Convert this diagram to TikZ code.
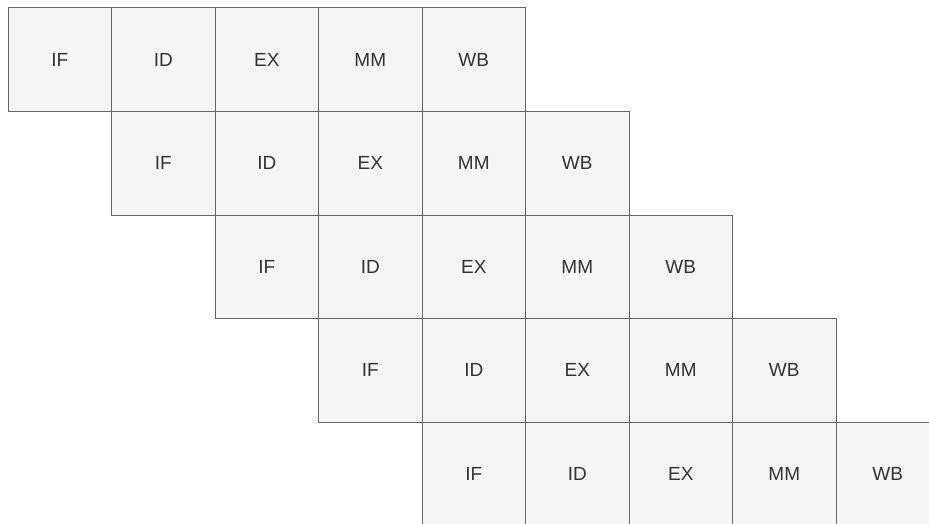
\documentclass[tikz,border=0pt]{standalone}
\usepackage{fontspec}
\setmainfont{Liberation Sans}
\definecolor{stagefill}{HTML}{F5F5F5}
\definecolor{stageline}{HTML}{666666}
\definecolor{stagetext}{HTML}{333333}
\begin{document}
\begin{tikzpicture}[x=1pt,y=1pt,
    stagebox/.style={draw=stageline, fill=stagefill, text=stagetext, line width=1pt,
      minimum width=103.5pt, minimum height=103.5pt, inner sep=0pt,
      font=\fontsize{19}{22}\selectfont}]
    \useasboundingbox (0,0) rectangle (929,-524);

    % one row per instruction, shifted by one stage each time
    \foreach \r in {0,...,4} {
        \foreach \s [count=\c from 0] in {IF,ID,EX,MM,WB} {
            \node[stagebox] (s\r-\c) at ({59.75+103.5*(\r+\c)}, {-59.75-103.5*\r}) {\s};
        }
    }
\end{tikzpicture}
\end{document}
